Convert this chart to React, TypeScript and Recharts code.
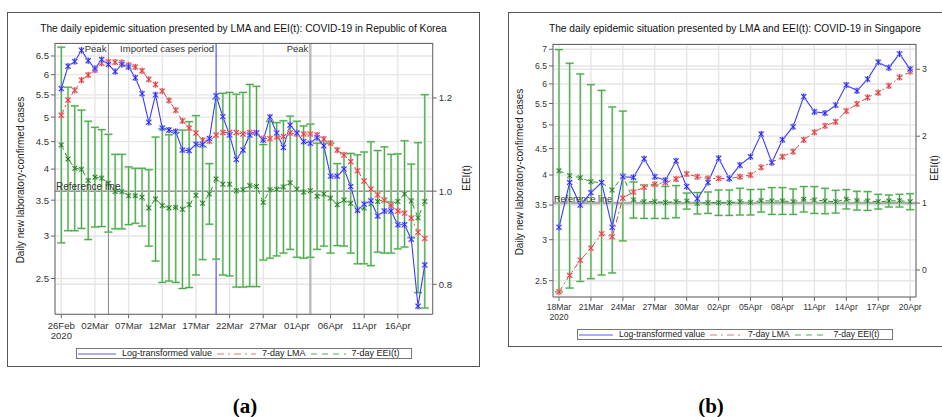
import React from "react";
import { CartesianGrid, ComposedChart, ErrorBar, Line, ReferenceLine, XAxis, YAxis } from "recharts";

const FONT = '"Liberation Sans", Arial, sans-serif';

const legendNames = ["Log-transformed value", "7-day LMA", "7-day EEI(t)"];

// Republic of Korea, 26Feb..20Apr 2020 (day 0..54)
const krTickDays = [0, 5, 10, 15, 20, 25, 30, 35, 40, 45, 50];
const krTickLabels = ["26Feb", "02Mar", "07Mar", "12Mar", "17Mar", "22Mar", "27Mar", "01Apr", "06Apr", "11Apr", "16Apr"];
const krLog = [
  5.65, 6.22, 6.35, 6.66, 6.37, 6.16, 6.4, 6.27, 6.08, 6.27,
  6.2, 5.92, 5.53, 4.89, 5.5, 4.77, 4.73, 4.7, 4.34, 4.33,
  4.45, 4.45, 4.56, 5.48, 5.01, 4.63, 4.17, 4.34, 4.63, 4.67,
  4.53, 5.0, 4.67, 4.39, 4.83, 4.67, 4.5, 4.47, 4.58, 4.42,
  3.88, 3.88, 4.0, 3.71, 3.35, 3.44, 3.49, 3.27, 3.34, 3.34,
  3.15, 3.15, 2.96, 2.22, 2.65,
];
const krLma = [
  5.04, 5.38, 5.61, 5.86, 5.99, 6.12, 6.3, 6.34, 6.33, 6.32,
  6.25, 6.2, 6.1, 5.88, 5.75, 5.59, 5.37, 5.15, 4.92, 4.77,
  4.67, 4.53, 4.51, 4.63, 4.68, 4.68, 4.68, 4.65, 4.68, 4.68,
  4.56, 4.56, 4.59, 4.6, 4.67, 4.65, 4.65, 4.65, 4.63, 4.55,
  4.47, 4.34, 4.25, 4.13, 3.97, 3.8, 3.67, 3.58, 3.5, 3.42,
  3.34, 3.31, 3.24, 3.05, 2.97,
];
const krEei = [
  1.099, 1.069, 1.049, 1.047, 1.023, 1.03, 1.028, 1.017, 0.999, 0.999,
  0.99, 0.99, 0.987, 0.964, 0.983, 0.969, 0.964, 0.965, 0.961, 0.971,
  0.991, 0.974, 0.994, 1.026, 1.015, 1.015, 1.001, 1.003, 1.012, 1.01,
  0.976, 1.003, 1.004, 1.009, 1.018, 1.004, 0.998, 1.001, 0.989, 0.994,
  0.985, 0.971, 0.981, 0.974, 0.961, 0.964, 0.973, 0.978, 0.981, 0.973,
  0.978, 0.994, 0.979, 0.943, 0.978,
];
const krEeiErr = [
  0.21, 0.154, 0.134, 0.127, 0.127, 0.107, 0.104, 0.105, 0.08, 0.08,
  0.062, 0.059, 0.062, 0.082, 0.133, 0.165, 0.157, 0.161, 0.17, 0.178,
  0.171, 0.121, 0.065, 0.172, 0.195, 0.197, 0.207, 0.209, 0.217, 0.215,
  0.124, 0.147, 0.143, 0.142, 0.143, 0.146, 0.142, 0.143, 0.114, 0.112,
  0.118, 0.088, 0.099, 0.107, 0.117, 0.12, 0.133, 0.109, 0.114, 0.106,
  0.102, 0.114, 0.079, 0.161, 0.229,
];
const krMarkDays = [7, 23, 37];
const krMarkTexts = ["Peak", "Imported cases period", "Peak"];
const krLeftTicks = [2.5, 3, 3.5, 4, 4.5, 5, 5.5, 6, 6.5];
const krRightTicks = [0.8, 1.0, 1.2];

// Singapore, 18Mar..20Apr 2020 (day 0..33)
const sgTickDays = [0, 3, 6, 9, 12, 15, 18, 21, 24, 27, 30, 33];
const sgTickLabels = ["18Mar", "21Mar", "24Mar", "27Mar", "30Mar", "02Apr", "05Apr", "08Apr", "11Apr", "14Apr", "17Apr", "20Apr"];
const sgLog = [
  3.17, 3.87, 3.5, 3.7, 3.87, 3.17, 3.97, 3.96, 4.3, 3.97,
  3.91, 4.26, 3.8, 3.6, 3.87, 4.31, 3.94, 4.18, 4.34, 4.8,
  4.23, 4.68, 4.96, 5.67, 5.3, 5.27, 5.46, 5.97, 5.82, 6.13,
  6.61, 6.45, 6.86, 6.41,
];
const sgLma = [
  2.38, 2.56, 2.74, 2.89, 3.08, 3.04, 3.61, 3.71, 3.79, 3.84,
  3.87, 3.93, 4.02, 3.97, 3.94, 3.94, 3.94, 3.97, 4.0, 4.14,
  4.23, 4.34, 4.44, 4.68, 4.84, 4.98, 5.07, 5.32, 5.49, 5.65,
  5.77, 5.95, 6.18, 6.34,
];
const sgEei = [
  1.484, 1.41, 1.38, 1.32, 1.305, 1.196, 1.405, 1.046, 1.021, 1.021,
  1.01, 1.021, 1.03, 0.997, 1.006, 1.006, 1.006, 1.021, 1.012, 1.036,
  1.031, 1.031, 1.021, 1.057, 1.046, 1.031, 1.021, 1.057, 1.036, 1.031,
  1.021, 1.031, 1.036, 1.021,
];
const sgEeiErr = [
  1.81, 1.68, 1.55, 1.45, 1.38, 1.24, 0.97, 0.27, 0.25, 0.25,
  0.24, 0.24, 0.12, 0.16, 0.16, 0.19, 0.19, 0.2, 0.19, 0.17,
  0.2, 0.2, 0.19, 0.19, 0.2, 0.19, 0.17, 0.145, 0.14, 0.14,
  0.11, 0.09, 0.095, 0.12,
];
const sgLeftTicks = [2.5, 3, 3.5, 4, 4.5, 5, 5.5, 6, 6.5, 7];
const sgRightTicks = [0, 1, 2, 3];

interface Row {
  day: number;
  log: number;
  lma: number;
  eei: number;
  err: number;
}

function buildRows(log: number[], lma: number[], eei: number[], err: number[]): Row[] {
  return log.map((v, day) => ({ day, log: v, lma: lma[day], eei: eei[day], err: err[day] }));
}

const krRows = buildRows(krLog, krLma, krEei, krEeiErr);
const sgRows = buildRows(sgLog, sgLma, sgEei, sgEeiErr);

// asterisk marker like the SAS plot symbol
const starDot = (color: string, halo: string, r: number) => (p: any) => {
  const { cx, cy, index } = p;
  if (cx == null || cy == null) return <g key={`s${index}`} />;
  const d = `M${cx - r} ${cy - r}L${cx + r} ${cy + r}M${cx - r} ${cy + r}L${cx + r} ${cy - r}M${cx} ${cy - r - 0.6}L${cx} ${cy + r + 0.6}`;
  return (
    <g key={`s${index}`}>
      <path d={d} stroke={halo} strokeWidth={2} fill="none" />
      <path d={d} stroke={color} strokeWidth={0.9} fill="none" />
    </g>
  );
};

const makeXTick = (days: number[], labels: string[], size: number) => (props: any) => {
  const { x, y, payload } = props;
  const k = days.indexOf(payload.value);
  return (
    <g>
      <text x={x} y={y} dy="0.71em" textAnchor="middle" fontSize={size} fill="#333">
        {labels[k]}
      </text>
      {k === 0 && (
        <text x={x} y={y + 10} dy="0.71em" textAnchor="middle" fontSize={size} fill="#333">
          2020
        </text>
      )}
    </g>
  );
};

interface PanelProps {
  rows: Row[];
  width: number;
  height: number;
  top: number;
  leftW: number;
  rightW: number;
  xH: number;
  tickMargin: number;
  tickFont: number;
  xDomain: [number, number];
  tickDays: number[];
  tickLabels: string[];
  leftDomain: [number, number];
  leftTicks: number[];
  rightDomain: [number, number];
  rightTicks: number[];
  rightFmt: (v: number) => string;
  refStroke: string;
  refWidth: number;
  refFont: number;
  extra?: React.ReactNode;
}

function Panel(p: PanelProps) {
  return (
    <ComposedChart width={p.width} height={p.height} data={p.rows} margin={{ top: p.top, right: 0, bottom: 0, left: 0 }}>
      <CartesianGrid stroke="#e6e6e6" strokeWidth={1.4} />
      {p.rightTicks
        .filter((v) => v !== 1)
        .map((v) => (
          <ReferenceLine key={`rg${v}`} yAxisId="r" y={v} stroke="#e6e6e6" strokeWidth={1.4} />
        ))}
      <XAxis
        dataKey="day"
        type="number"
        domain={p.xDomain}
        allowDataOverflow
        ticks={p.tickDays}
        interval={0}
        height={p.xH}
        tickSize={4}
        tickMargin={p.tickMargin}
        stroke="#666"
        tick={makeXTick(p.tickDays, p.tickLabels, p.tickFont)}
      />
      <YAxis
        type="number"
        scale="log"
        domain={p.leftDomain}
        allowDataOverflow
        ticks={p.leftTicks}
        interval={0}
        width={p.leftW}
        tickSize={4}
        stroke="#666"
        tick={{ fontSize: p.tickFont, fill: "#333" }}
      />
      <YAxis
        yAxisId="r"
        orientation="right"
        type="number"
        domain={p.rightDomain}
        allowDataOverflow
        ticks={p.rightTicks}
        interval={0}
        width={p.rightW}
        tickSize={4}
        stroke="#666"
        tickFormatter={p.rightFmt}
        tick={{ fontSize: p.tickFont, fill: "#333" }}
      />
      {p.extra}
      <ReferenceLine
        yAxisId="r"
        y={1}
        stroke={p.refStroke}
        strokeWidth={p.refWidth}
        label={{ value: "Reference line", position: "insideBottomLeft", offset: 1, fontSize: p.refFont, fill: "#333" }}
      />
      <Line
        yAxisId="r"
        dataKey="eei"
        type="linear"
        stroke="#2f8f2f"
        strokeWidth={1}
        strokeDasharray="5 4"
        dot={starDot("#1b6e1b", "#a6d8a6", 2.3)}
        activeDot={false}
        isAnimationActive={false}
      >
        <ErrorBar dataKey="err" direction="y" width={4} stroke="#b9e2b9" strokeWidth={2.2} isAnimationActive={false} />
        <ErrorBar dataKey="err" direction="y" width={4} stroke="#3a9d3a" strokeWidth={0.9} isAnimationActive={false} />
      </Line>
      <Line
        dataKey="lma"
        type="linear"
        stroke="#d24a4a"
        strokeWidth={1}
        strokeDasharray="6 3 2 3"
        dot={starDot("#d03a3a", "#f3a9a9", 2.5)}
        activeDot={false}
        isAnimationActive={false}
      />
      <Line
        dataKey="log"
        type="linear"
        stroke="#3b3bff"
        strokeWidth={1.1}
        dot={starDot("#1f1fe6", "#a9a9ff", 2.5)}
        activeDot={false}
        isAnimationActive={false}
      />
    </ComposedChart>
  );
}

function LegendBox({ left, top, width, font, samples }: { left: number; top: number; width: number; font: number; samples: number[] }) {
  const styles = [
    { color: "#5b5bff", dash: undefined as string | undefined },
    { color: "#dd7777", dash: "7 4 2 4" },
    { color: "#55aa55", dash: "6 5" },
  ];
  return (
    <div
      style={{
        position: "absolute",
        left,
        top,
        width,
        height: 11,
        boxSizing: "border-box",
        border: "1px solid #777",
        display: "flex",
        alignItems: "center",
        fontSize: font,
        lineHeight: "9px",
        color: "#222",
        paddingLeft: 1,
        whiteSpace: "nowrap",
      }}
    >
      {legendNames.map((name, k) => (
        <div key={name} style={{ display: "flex", alignItems: "center" }}>
          <svg width={samples[k]} height={6}>
            <line x1={0} y1={3} x2={samples[k]} y2={3} stroke={styles[k].color} strokeWidth={1} strokeDasharray={styles[k].dash} />
          </svg>
          <span style={{ marginLeft: 6, marginRight: 5 }}>{name}</span>
        </div>
      ))}
    </div>
  );
}

const abs = (left: number, top: number): React.CSSProperties => ({ position: "absolute", left, top });

function Rotated({ cx, cy, text }: { cx: number; cy: number; text: string }) {
  return (
    <div
      style={{
        position: "absolute",
        left: cx,
        top: cy,
        transform: "translate(-50%, -50%) rotate(-90deg)",
        whiteSpace: "nowrap",
        fontSize: 10,
        lineHeight: "12px",
        color: "#222",
      }}
    >
      {text}
    </div>
  );
}

export default function App() {
  const krExtra = krMarkDays.map((d, k) => (
    <ReferenceLine
      key={`m${k}`}
      x={d}
      stroke={k === 1 ? "#3030ff" : k === 0 ? "#8a8a8a" : "#bdbdbd"}
      strokeWidth={k === 2 ? 2.5 : 1}
      label={{ value: krMarkTexts[k], position: "insideTopRight", offset: 2, fontSize: 9.5, fill: "#333" }}
    />
  ));

  return (
    <div
      style={{
        position: "absolute",
        left: 0,
        top: 0,
        width: 942,
        height: 417,
        overflow: "hidden",
        background: "#fff",
        fontFamily: FONT,
        color: "#222",
      }}
    >
      <div style={{ ...abs(7, 12), width: 473, height: 355, boxSizing: "border-box", border: "1px solid #555" }} />
      <div style={{ ...abs(508, 12), width: 440, height: 335, boxSizing: "border-box", border: "1px solid #555" }} />

      <div style={{ ...abs(7, 22), width: 473, textAlign: "center", fontSize: 10.2, lineHeight: "13px", color: "#111" }}>
        The daily epidemic situation presented by LMA and EEI(t): COVID-19 in Republic of Korea
      </div>
      <div style={{ ...abs(535, 22), width: 400, textAlign: "center", fontSize: 10.2, lineHeight: "13px", color: "#111" }}>
        The daily epidemic situation presented by LMA and EEI(t): COVID-19 in Singapore
      </div>

      <div style={abs(0, 0)}>
        <Panel
          rows={krRows}
          width={480}
          height={370}
          top={43}
          leftW={55}
          rightW={47.3}
          xH={55.7}
          tickMargin={4}
          tickFont={9.6}
          xDomain={[-0.936, 55.18]}
          tickDays={krTickDays}
          tickLabels={krTickLabels}
          leftDomain={[2.144, 6.873]}
          leftTicks={krLeftTicks}
          rightDomain={[0.7356, 1.318]}
          rightTicks={krRightTicks}
          rightFmt={(v) => v.toFixed(1)}
          refStroke="#555"
          refWidth={1}
          refFont={10}
          extra={krExtra}
        />
      </div>
      <div style={{ ...abs(55, 42.5), width: 378, borderTop: "1px solid #666" }} />

      <div style={abs(480, 0)}>
        <Panel
          rows={sgRows}
          width={462}
          height={350}
          top={44}
          leftW={73}
          rightW={26}
          xH={53}
          tickMargin={3}
          tickFont={8.6}
          xDomain={[-0.564, 33.55]}
          tickDays={sgTickDays}
          tickLabels={sgTickLabels}
          leftDomain={[2.325, 7.167]}
          leftTicks={sgLeftTicks}
          rightDomain={[-0.4036, 3.378]}
          rightTicks={sgRightTicks}
          rightFmt={(v) => String(v)}
          refStroke="#aaa"
          refWidth={2.5}
          refFont={9}
        />
      </div>
      <div style={{ ...abs(553, 43.5), width: 363, borderTop: "1px solid #666" }} />

      <Rotated cx={21} cy={180} text="Daily new laboratory-confirmed cases" />
      <Rotated cx={467} cy={178} text="EEI(t)" />
      <Rotated cx={520} cy={172} text="Daily new laboratory-confirmed cases" />
      <Rotated cx={935} cy={168} text="EEI(t)" />

      <LegendBox left={76} top={348} width={336} font={9} samples={[38, 39, 35]} />
      <LegendBox left={577} top={329} width={316} font={8.6} samples={[34, 32, 33]} />

      <div style={{ ...abs(205, 392), width: 80, textAlign: "center", fontFamily: '"Liberation Serif", serif', fontWeight: 700, fontSize: 21, lineHeight: "28px", color: "#000" }}>
        (a)
      </div>
      <div style={{ ...abs(671, 392), width: 80, textAlign: "center", fontFamily: '"Liberation Serif", serif', fontWeight: 700, fontSize: 21, lineHeight: "28px", color: "#000" }}>
        (b)
      </div>
    </div>
  );
}
